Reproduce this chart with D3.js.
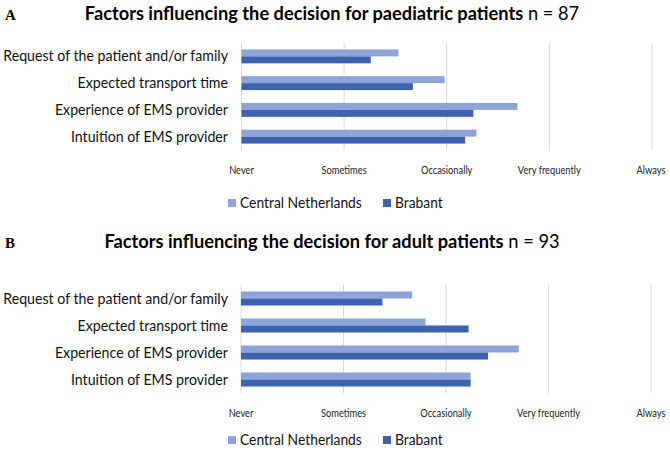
<!DOCTYPE html>
<html><head><meta charset="utf-8">
<script src="https://cdn.jsdelivr.net/npm/d3@7"></script>
<style>body{margin:0;background:#fff}svg{display:block}</style>
</head><body>
<svg id="chart" width="670" height="456"></svg>
<script>
const categories = ["Request of the patient and/or family","Expected transport time","Experience of EMS provider","Intuition of EMS provider"];
const seriesNames = ["Central Netherlands","Brabant"];
const tickLabels = ["Never","Sometimes","Occasionally","Very frequently","Always"];
const tickValues = [1,2,3,4,5];
// panel A: paediatric patients (1 = Never ... 5 = Always)
const paedCentral = [2.53, 2.98, 3.69, 3.29];
const paedBrabant = [2.26, 2.67, 3.26, 3.18];
// panel B: adult patients
const adultCentral = [2.67, 2.80, 3.71, 3.24];
const adultBrabant = [2.38, 3.22, 3.41, 3.24];
const panels = [
  {letter:"A", titleBold:"Factors influencing the decision for paediatric patients", titleN:" n = 87", central:paedCentral, brabant:paedBrabant},
  {letter:"B", titleBold:"Factors influencing the decision for adult patients", titleN:" n = 93", central:adultCentral, brabant:adultBrabant}
];
const colors = ["#8ea4d8","#3d62b0"];
const FONT = "Lato, 'Open Sans', sans-serif";
const svg = d3.select("#chart");

// horizontal compression to mimic a narrow humanist font
function squeeze(sel, f){
  sel.each(function(){
    const t=d3.select(this);
    const x=+t.attr("data-x"), y=+t.attr("data-y");
    t.attr("x",0).attr("y",0).attr("transform",`translate(${x},${y}) scale(${f},1)`);
  });
}
function measure(str, size, weight){
  const t=svg.append("text").attr("font-family",FONT).attr("font-size",size).attr("font-weight",weight||"normal").text(str);
  const w=t.node().getComputedTextLength(); t.remove(); return w;
}
const fLabel = 225/measure(categories[0],15);
const fTick = 63/measure("Very frequently",11.5);
const fLegend = 122/measure("Central Netherlands",15);
const fTitle = 490/(measure(panels[0].titleBold,18.5,"bold")+measure(panels[0].titleN,18.5));

const layouts = [
  {top:43, bottom:150, x0:241.5, step:102.6, titleY:20, tickY:174, legY:203},
  {top:285, bottom:393, x0:241, step:102.5, titleY:248, tickY:417, legY:440}
];

panels.forEach((p,i)=>{
  const L = layouts[i];
  const g = svg.append("g");
  const x = d3.scaleLinear().domain([1,5]).range([L.x0, L.x0+4*L.step]);
  const y = d3.scaleBand().domain(categories).range([L.top, L.bottom]).padding(0);
  const half = y.bandwidth()*0.26;
  const ys = d3.scaleBand().domain(seriesNames).range([-half, half]);

  // panel letter
  g.append("text").attr("x",5).attr("y",L.titleY).attr("font-family","'Liberation Serif', 'Times New Roman', serif")
    .attr("font-weight","bold").attr("font-size",15).attr("fill","#000").text(p.letter);
  // title
  const tt = g.append("text").attr("data-x",332).attr("data-y",L.titleY).attr("text-anchor","middle")
    .attr("font-family",FONT).attr("font-size",18.5).attr("fill","#000");
  tt.append("tspan").attr("font-weight","bold").text(p.titleBold);
  tt.append("tspan").attr("font-weight","normal").text(p.titleN);
  squeeze(tt, fTitle);

  // gridlines
  g.append("g").selectAll("line").data(tickValues).join("line")
    .attr("x1",d=>x(d)).attr("x2",d=>x(d)).attr("y1",L.top).attr("y2",L.bottom)
    .attr("stroke","#d9d9d9").attr("stroke-width",1);

  // bars
  const data = categories.map((c,k)=>({cat:c, vals:[{s:seriesNames[0],v:p.central[k]},{s:seriesNames[1],v:p.brabant[k]}]}));
  const cg = g.append("g").selectAll("g").data(data).join("g")
    .attr("transform",d=>`translate(0,${y(d.cat)+y.bandwidth()/2})`);
  cg.selectAll("rect").data(d=>d.vals).join("rect")
    .attr("x",x(1)).attr("y",d=>ys(d.s)).attr("height",ys.bandwidth())
    .attr("width",d=>x(d.v)-x(1)).attr("fill",(d,j)=>colors[j]);

  // category labels
  const cl = g.append("g").selectAll("text").data(categories).join("text")
    .attr("data-x",228).attr("data-y",d=>y(d)+y.bandwidth()/2+5)
    .attr("text-anchor","end").attr("font-family",FONT).attr("font-size",15).attr("fill","#111").text(d=>d);
  squeeze(cl, fLabel);

  // tick labels
  const tl = g.append("g").selectAll("text").data(tickValues).join("text")
    .attr("data-x",d=>Math.min(x(d),651)).attr("data-y",L.tickY)
    .attr("text-anchor","middle").attr("font-family",FONT).attr("font-size",11.5).attr("fill","#222")
    .text((d,k)=>tickLabels[k]);
  squeeze(tl, fTick);

  // legend
  const legX = [228, 383];
  const lg = g.append("g").selectAll("g").data(seriesNames).join("g");
  lg.append("rect").attr("x",(d,k)=>legX[k]).attr("y",L.legY-4).attr("width",8).attr("height",8).attr("fill",(d,k)=>colors[k]);
  const lt = lg.append("text").attr("data-x",(d,k)=>legX[k]+12).attr("data-y",L.legY+5)
    .attr("font-family",FONT).attr("font-size",15).attr("fill","#111").text(d=>d);
  squeeze(lt, fLegend);
});
</script>
</body></html>
